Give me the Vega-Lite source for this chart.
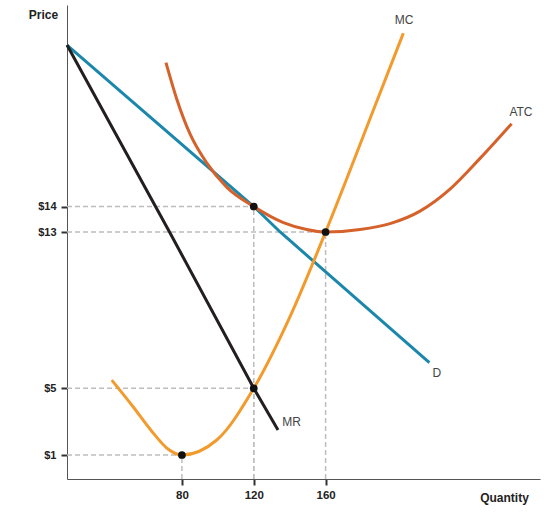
{
  "$schema": "https://vega.github.io/schema/vega-lite/v6.json",
  "width": 473,
  "height": 474,
  "autosize": {"type": "none"},
  "padding": {"left": 67, "top": 5, "right": 20, "bottom": 33},
  "background": "white",
  "config": {
    "view": {"stroke": null},
    "font": "Liberation Sans"
  },
  "datasets": {
    "curves": [
      {"curve": "D", "q": 16, "p": 20.41},
      {"curve": "D", "q": 120, "p": 14},
      {"curve": "D", "q": 134.7, "p": 13},
      {"curve": "D", "q": 217.8, "p": 6.31},
      {"curve": "MR", "q": 16, "p": 20.41},
      {"curve": "MR", "q": 65.3, "p": 14},
      {"curve": "MR", "q": 73.1, "p": 13},
      {"curve": "MR", "q": 120, "p": 5},
      {"curve": "MR", "q": 133.5, "p": 2.5},
      {"curve": "MC", "q": 40.9, "p": 5.42},
      {"curve": "MC", "q": 52.9, "p": 3.88},
      {"curve": "MC", "q": 63.3, "p": 2.41},
      {"curve": "MC", "q": 72.2, "p": 1.36},
      {"curve": "MC", "q": 80, "p": 1},
      {"curve": "MC", "q": 99.4, "p": 1.9},
      {"curve": "MC", "q": 120, "p": 5},
      {"curve": "MC", "q": 140.2, "p": 8.67},
      {"curve": "MC", "q": 160, "p": 13},
      {"curve": "MC", "q": 187.5, "p": 17.99},
      {"curve": "MC", "q": 203.3, "p": 20.88},
      {"curve": "ATC", "q": 71.1, "p": 19.71},
      {"curve": "ATC", "q": 77.1, "p": 18.27},
      {"curve": "ATC", "q": 84.5, "p": 16.88},
      {"curve": "ATC", "q": 93.8, "p": 15.73},
      {"curve": "ATC", "q": 104.9, "p": 14.77},
      {"curve": "ATC", "q": 120, "p": 14},
      {"curve": "ATC", "q": 136.5, "p": 13.37},
      {"curve": "ATC", "q": 149.5, "p": 13.1},
      {"curve": "ATC", "q": 160, "p": 13},
      {"curve": "ATC", "q": 179.2, "p": 13.1},
      {"curve": "ATC", "q": 195.9, "p": 13.33},
      {"curve": "ATC", "q": 212.6, "p": 13.82},
      {"curve": "ATC", "q": 229.3, "p": 14.69},
      {"curve": "ATC", "q": 246.0, "p": 15.91},
      {"curve": "ATC", "q": 263.6, "p": 17.29}
    ],
    "points": [
      {"q": 120, "p": 14},
      {"q": 160, "p": 13},
      {"q": 120, "p": 5},
      {"q": 80, "p": 1}
    ],
    "labels": [
      {"label": "MC", "q": 203.7, "p": 21.4},
      {"label": "ATC", "q": 268.8, "p": 17.75},
      {"label": "D", "q": 221.9, "p": 5.78},
      {"label": "MR", "q": 141.1, "p": 2.95}
    ]
  },
  "encoding": {
    "x": {
      "field": "q",
      "type": "quantitative",
      "scale": {"domain": [16, 279.4], "nice": false, "zero": false},
      "axis": {
        "title": "Quantity",
        "titleX": 437,
        "titleY": 22,
        "titleAlign": "center",
        "titleBaseline": "alphabetic",
        "titleFont": "Liberation Sans",
        "titleFontSize": 12,
        "titleFontWeight": "bold",
        "titleColor": "#222",
        "values": [80, 120, 160],
        "grid": false,
        "domainColor": "#555",
        "domainWidth": 1,
        "tickColor": "#333",
        "tickWidth": 2,
        "tickSize": 6,
        "labelPadding": 4,
        "labelFont": "Liberation Sans",
        "labelFontSize": 11.5,
        "labelFontWeight": "bold",
        "labelColor": "#222"
      }
    },
    "y": {
      "field": "p",
      "type": "quantitative",
      "scale": {
        "domain": [0, 1, 5, 13, 14, 22],
        "range": [474, 450, 383.3, 227, 201.5, 0],
        "nice": false,
        "zero": false
      },
      "axis": {
        "title": "Price",
        "titleAngle": 0,
        "titleX": -24,
        "titleY": 13,
        "titleAlign": "center",
        "titleBaseline": "alphabetic",
        "titleFont": "Liberation Sans",
        "titleFontSize": 12,
        "titleFontWeight": "bold",
        "titleColor": "#222",
        "values": [1, 5, 13, 14],
        "labelExpr": "'$' + datum.value",
        "grid": false,
        "domainColor": "#555",
        "domainWidth": 1,
        "tickColor": "#333",
        "tickWidth": 2,
        "tickSize": 6,
        "labelPadding": 5,
        "labelFont": "Liberation Sans",
        "labelFontSize": 11,
        "labelFontWeight": "bold",
        "labelColor": "#222"
      }
    }
  },
  "layer": [
    {
      "data": {"name": "points"},
      "mark": {"type": "rule", "color": "#bdbdbd", "strokeDash": [5, 3], "strokeWidth": 1.5},
      "encoding": {
        "x": {"datum": 16, "type": "quantitative"},
        "x2": {"field": "q"}
      }
    },
    {
      "data": {"name": "points"},
      "mark": {"type": "rule", "color": "#bdbdbd", "strokeDash": [5, 3], "strokeWidth": 1.5},
      "encoding": {
        "y": {"datum": 0, "type": "quantitative"},
        "y2": {"field": "p"}
      }
    },
    {
      "data": {"name": "curves"},
      "transform": [{"filter": "datum.curve === 'D' || datum.curve === 'MR'"}],
      "mark": {"type": "line", "strokeWidth": 3, "interpolate": "linear"},
      "encoding": {
        "color": {
          "field": "curve",
          "type": "nominal",
          "scale": {"domain": ["D", "MR", "MC", "ATC"], "range": ["#1b87ab", "#231f20", "#f29b2c", "#d5612b"]},
          "legend": null
        },
        "order": {"field": "q", "type": "quantitative"}
      }
    },
    {
      "data": {"name": "curves"},
      "transform": [{"filter": "datum.curve === 'MC' || datum.curve === 'ATC'"}],
      "mark": {"type": "line", "strokeWidth": 3, "interpolate": "monotone"},
      "encoding": {
        "color": {
          "field": "curve",
          "type": "nominal",
          "scale": {"domain": ["D", "MR", "MC", "ATC"], "range": ["#1b87ab", "#231f20", "#f29b2c", "#d5612b"]},
          "legend": null
        },
        "order": {"field": "q", "type": "quantitative"}
      }
    },
    {
      "data": {"name": "points"},
      "mark": {"type": "circle", "color": "#111", "opacity": 1, "size": 60},
      "encoding": {}
    },
    {
      "data": {"name": "labels"},
      "mark": {"type": "text", "font": "Liberation Sans", "fontSize": 12, "color": "#444", "align": "center", "baseline": "middle"},
      "encoding": {"text": {"field": "label"}}
    }
  ]
}
